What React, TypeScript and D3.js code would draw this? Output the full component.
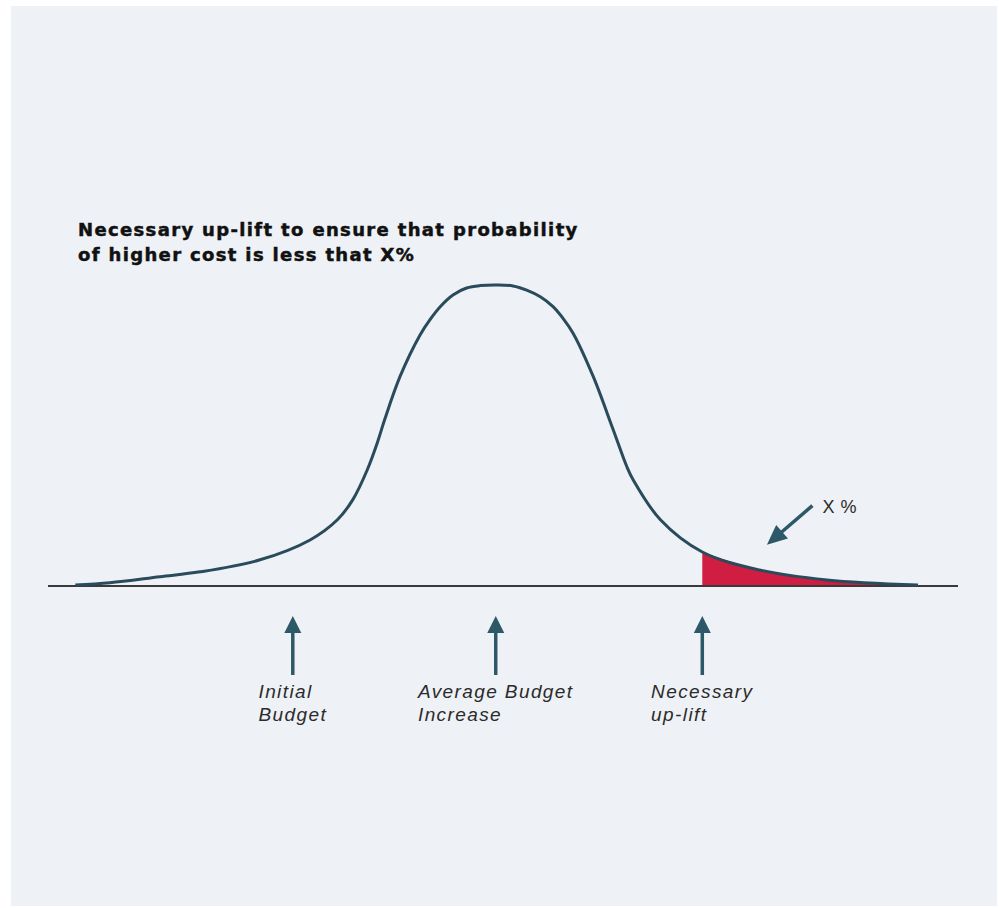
import { useEffect, useRef } from "react";
import * as d3 from "d3";

const W = 999;
const H = 908;

// Cost distribution: budget units (0-100) vs relative density (peak = 100)
const curveX = [3.0, 6.8, 12.3, 16.7, 23.3, 28.8, 31.8, 33.5, 35.1, 36.2, 37.0, 38.7, 40.9, 42.0, 43.1, 44.5, 46.0, 47.5, 49.3, 51.1, 52.6, 54.1, 55.5, 56.6, 57.7, 59.9, 62.1, 63.6, 64.3, 67.3, 71.9, 78.2, 85.6, 95.6];
const curveY = [0.3, 1.1, 3.1, 4.7, 8.7, 15.3, 22.0, 28.7, 38.7, 47.7, 55.3, 69.7, 83.5, 88.6, 92.8, 96.7, 99.0, 99.8, 100, 99.7, 98.3, 96.1, 92.8, 88.9, 84.0, 69.7, 52.0, 39.7, 35.3, 22.0, 11.3, 5.3, 2.0, 0.3];

// Markers under the axis
const markerX = [26.9, 49.2, 71.9];
const markerLabels = [
  ["Initial", "Budget"],
  ["Average Budget", "Increase"],
  ["Necessary", "up-lift"],
];
const upliftX = 71.9;

// "X %" callout (data units)
const calloutFrom = [84.0, 26.7];
const calloutTo = [79.0, 13.7];
const calloutText = "X %";

const titleLines = [
  "Necessary up-lift to ensure that probability",
  "of higher cost is less that X%",
];

const CURVE = "#2a4b5c";
const ARROW = "#2d5868";
const RED = "#cf1e42";

export default function App() {
  const svgRef = useRef<SVGSVGElement>(null);

  useEffect(() => {
    if (!svgRef.current) return;
    const svg = d3.select(svgRef.current);
    svg.selectAll("*").remove();

    const x = d3.scaleLinear().domain([0, 100]).range([48, 958]);
    const y = d3.scaleLinear().domain([0, 100]).range([586, 285]);
    const base = y(0);
    const smooth = d3.curveCatmullRom.alpha(0.5);

    // panel
    svg.append("rect").attr("width", W).attr("height", H).attr("fill", "#ffffff");
    svg
      .append("rect")
      .attr("x", 11)
      .attr("y", 6)
      .attr("width", 986)
      .attr("height", 900)
      .attr("fill", "#eef1f5");

    // title
    const title = svg
      .append("text")
      .attr("font-family", "'DejaVu Sans', sans-serif")
      .attr("font-weight", "bold")
      .attr("font-size", 18)
      .attr("letter-spacing", 1.35)
      .attr("fill", "#111111")
      .attr("stroke", "#111111")
      .attr("stroke-width", 0.5);
    titleLines.forEach((t, i) => {
      title
        .append("tspan")
        .attr("x", 78)
        .attr("y", 236 + i * 25)
        .text(t);
    });

    const pts: [number, number][] = curveX.map((v, i) => [v, curveY[i]]);

    // shaded tail
    const tail = pts.filter((p) => p[0] >= upliftX);
    const area = d3
      .area<[number, number]>()
      .x((d) => x(d[0]))
      .y0(base)
      .y1((d) => y(d[1]))
      .curve(smooth);
    svg.append("path").attr("d", area(tail)).attr("fill", RED);

    // axis line
    svg
      .append("line")
      .attr("x1", x(0))
      .attr("x2", x(100))
      .attr("y1", base)
      .attr("y2", base)
      .attr("stroke", "#3a3a3a")
      .attr("stroke-width", 2);

    // curve
    const line = d3
      .line<[number, number]>()
      .x((d) => x(d[0]))
      .y((d) => y(d[1]))
      .curve(smooth);
    svg
      .append("path")
      .attr("d", line(pts))
      .attr("fill", "none")
      .attr("stroke", CURVE)
      .attr("stroke-width", 3);

    // arrow helper
    const arrow = (x1: number, y1: number, x2: number, y2: number, head = 17, half = 8.5) => {
      const ang = Math.atan2(y2 - y1, x2 - x1);
      const bx = x2 - head * Math.cos(ang);
      const by = y2 - head * Math.sin(ang);
      svg
        .append("line")
        .attr("x1", x1)
        .attr("y1", y1)
        .attr("x2", bx + 2 * Math.cos(ang))
        .attr("y2", by + 2 * Math.sin(ang))
        .attr("stroke", ARROW)
        .attr("stroke-width", 3.5);
      const px = -Math.sin(ang);
      const py = Math.cos(ang);
      svg
        .append("path")
        .attr(
          "d",
          `M${x2},${y2}L${bx + half * px},${by + half * py}L${bx - half * px},${by - half * py}Z`
        )
        .attr("fill", ARROW);
    };

    // up arrows + labels
    markerX.forEach((mx, i) => {
      const cx = x(mx);
      arrow(cx, base + 89, cx, base + 30);
      const g = svg
        .append("text")
        .attr("font-family", "'Liberation Sans', Arial, sans-serif")
        .attr("font-style", "italic")
        .attr("font-size", 19)
        .attr("letter-spacing", 1.4)
        .attr("fill", "#2b2b2b");
      const spans = markerLabels[i].map((t, j) =>
        g.append("tspan").attr("y", base + 112 + j * 23).text(t)
      );
      const widest = d3.max(spans, (s) => (s.node() as SVGTSpanElement).getComputedTextLength()) ?? 0;
      spans.forEach((s) => s.attr("x", cx - widest / 2));
    });

    // X % callout
    arrow(x(calloutFrom[0]), y(calloutFrom[1]), x(calloutTo[0]), y(calloutTo[1]), 20, 9);
    svg
      .append("text")
      .attr("x", x(calloutFrom[0]) + 10)
      .attr("y", y(24.3))
      .attr("font-family", "'Liberation Sans', Arial, sans-serif")
      .attr("font-size", 18)
      .attr("letter-spacing", 0.6)
      .attr("fill", "#2b2b2b")
      .text(calloutText);
  }, []);

  return (
    <div style={{ position: "absolute", left: 0, top: 0 }}>
      <svg ref={svgRef} width={W} height={H} />
    </div>
  );
}
